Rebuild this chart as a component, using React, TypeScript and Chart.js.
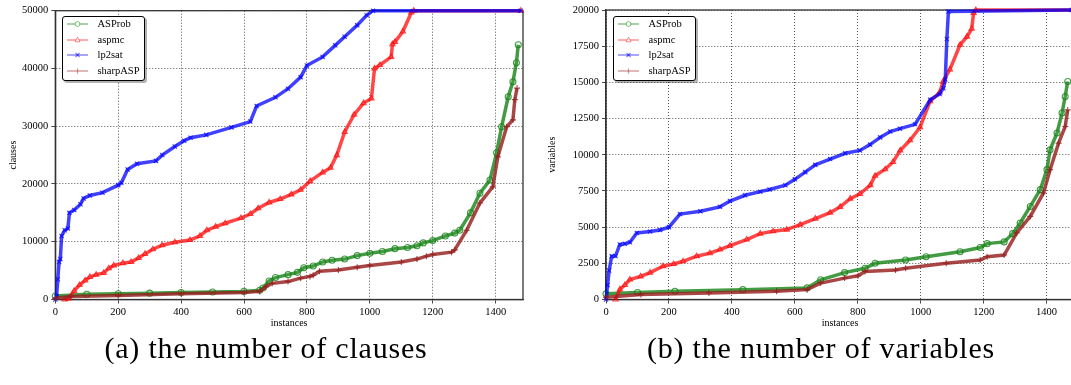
import React, { useEffect, useRef } from "react";
import { Chart, registerables } from "chart.js";
Chart.register(...registerables);

// ---------- shared ----------
const seriesNames = ["ASProb", "aspmc", "lp2sat", "sharpASP"];
const seriesColors = ["rgba(20,130,20,0.8)", "rgba(255,10,10,0.75)", "rgba(0,0,255,0.75)", "rgba(150,30,30,0.82)"];
const legendColors = ["rgba(20,140,20,0.55)", "rgba(255,20,20,0.5)", "rgba(0,0,255,0.5)", "rgba(160,30,30,0.45)"];
const seriesMarkers = ["circle", "triangle", "crossRot", "cross"];
const instanceTicks = [0, 200, 400, 600, 800, 1000, 1200, 1400];
const instanceMax = 1487;

// ---------- (a) clauses ----------
const clausesTicks = [0, 10000, 20000, 30000, 40000, 50000];
const clausesASProbX = [0, 100, 200, 300, 400, 500, 600, 650, 660, 680, 700, 740, 770, 790, 820, 850, 880, 920, 960, 1000, 1040, 1080, 1120, 1150, 1170, 1200, 1240, 1270, 1286, 1320, 1350, 1382, 1403, 1419, 1440, 1455, 1466, 1472];
const clausesASProbY = [600, 900, 1000, 1100, 1200, 1300, 1400, 1600, 2000, 3200, 3800, 4300, 4700, 5500, 5800, 6500, 6800, 7000, 7600, 8000, 8300, 8800, 9000, 9300, 9800, 10200, 11000, 11500, 12000, 15000, 18400, 20700, 25400, 29900, 35100, 37700, 41000, 44100];
const clausesAspmcX = [30, 43, 60, 77, 95, 110, 130, 154, 170, 186, 215, 241, 265, 285, 310, 340, 380, 428, 460, 482, 510, 540, 590, 620, 645, 680, 715, 750, 780, 810, 850, 875, 895, 920, 950, 980, 1005, 1015, 1032, 1068, 1072, 1080, 1105, 1132, 1140, 1480];
const clausesAspmcY = [0, 200, 1500, 2500, 3300, 3900, 4300, 4600, 5400, 5900, 6300, 6500, 7200, 7900, 8700, 9400, 9900, 10300, 11000, 12000, 12600, 13200, 14100, 14800, 15800, 16800, 17400, 18200, 19000, 20500, 22000, 22800, 25000, 29000, 32000, 34000, 34800, 40000, 40600, 42000, 44200, 44600, 46400, 49700, 50000, 50000];
const clausesLp2satX = [0, 4, 8, 12, 16, 20, 30, 40, 45, 60, 80, 90, 110, 150, 200, 210, 230, 260, 320, 340, 380, 410, 430, 480, 560, 620, 640, 700, 740, 780, 800, 850, 890, 920, 960, 990, 1010, 1480];
const clausesLp2satY = [0, 500, 3500, 6500, 7000, 11000, 12000, 12300, 15000, 15500, 16500, 17500, 18000, 18500, 19800, 20200, 22500, 23500, 24000, 25000, 26500, 27500, 28000, 28500, 29800, 30800, 33500, 35000, 36500, 38500, 40500, 42000, 44000, 45500, 47500, 49200, 50000, 50000];
const clausesSharpX = [0, 50, 200, 400, 600, 650, 670, 690, 740, 780, 810, 820, 840, 900, 960, 1000, 1100, 1150, 1180, 1200, 1260, 1270, 1308, 1350, 1391, 1407, 1435, 1455, 1461, 1468];
const clausesSharpY = [200, 500, 700, 1000, 1200, 1400, 2200, 2800, 3100, 3700, 4000, 4200, 4900, 5100, 5600, 5900, 6500, 7000, 7500, 7800, 8200, 8600, 12000, 16700, 19500, 24700, 29900, 31100, 34600, 36600];

// ---------- (b) variables ----------
const variablesTicks = [0, 2500, 5000, 7500, 10000, 12500, 15000, 17500, 20000];
const variablesASProbX = [0, 100, 219, 435, 639, 682, 758, 823, 855, 952, 1017, 1125, 1189, 1211, 1265, 1292, 1316, 1348, 1380, 1401, 1411, 1433, 1449, 1459, 1467];
const variablesASProbY = [390, 480, 570, 680, 800, 1360, 1860, 2160, 2500, 2730, 2950, 3300, 3590, 3860, 3980, 4550, 5290, 6430, 7590, 8970, 10340, 11500, 12880, 14020, 15060];
const variablesAspmcX = [30, 44, 60, 76, 110, 140, 181, 215, 245, 288, 330, 362, 394, 447, 490, 531, 574, 617, 665, 712, 744, 776, 807, 840, 855, 887, 912, 935, 966, 998, 1030, 1060, 1071, 1093, 1125, 1147, 1162, 1168, 1175, 1480];
const variablesAspmcY = [0, 700, 1000, 1380, 1600, 1860, 2300, 2450, 2640, 2990, 3200, 3450, 3720, 4140, 4550, 4710, 4830, 5170, 5590, 6000, 6400, 6970, 7300, 7900, 8550, 9000, 9500, 10300, 11000, 11900, 13700, 14300, 15050, 15900, 17600, 18160, 18700, 19800, 20000, 20000];
const variablesLp2satX = [0, 5, 10, 18, 30, 44, 60, 76, 98, 140, 172, 200, 235, 300, 362, 394, 442, 490, 520, 570, 600, 633, 665, 712, 760, 807, 839, 871, 903, 934, 982, 1030, 1060, 1072, 1078, 1083, 1088, 1480];
const variablesLp2satY = [0, 1000, 2000, 2990, 3000, 3800, 3850, 3950, 4600, 4700, 4800, 5000, 5900, 6100, 6400, 6800, 7200, 7450, 7600, 7900, 8300, 8800, 9300, 9700, 10100, 10300, 10700, 11200, 11600, 11800, 12100, 13800, 14200, 14600, 15200, 18000, 19900, 20000];
const variablesSharpX = [0, 111, 327, 542, 639, 682, 758, 801, 823, 920, 952, 1081, 1189, 1211, 1265, 1305, 1348, 1390, 1411, 1438, 1459, 1467];
const variablesSharpY = [160, 340, 455, 568, 682, 1136, 1477, 1636, 1932, 2045, 2160, 2500, 2730, 2955, 3070, 4600, 5740, 7360, 8970, 10800, 11950, 13100];

const SERIF = '"Liberation Serif", "Times New Roman", serif';

const framePlugin = {
  id: "frame",
  beforeDatasetsDraw(chart: any) {
    const { ctx, chartArea: a } = chart;
    ctx.save();
    ctx.strokeStyle = "#333";
    ctx.lineWidth = 1.3;
    ctx.strokeRect(a.left, a.top, a.right - a.left, a.bottom - a.top);
    ctx.restore();
  },
};

function makeDatasets(xs: number[][], ys: number[][]) {
  const orders = [4, 3, 2, 1];
  return seriesNames.map((name, i) => ({
    label: name,
    data: xs[i].map((x, j) => ({ x, y: ys[i][j] })),
    borderColor: seriesColors[i],
    backgroundColor: "rgba(255,255,255,0)",
    pointBorderColor: seriesColors[i],
    pointBackgroundColor: "rgba(255,255,255,0)",
    pointStyle: seriesMarkers[i],
    pointRadius: 3,
    pointBorderWidth: 1.1,
    borderWidth: 3.5,
    tension: 0,
    clip: false as any,
    order: orders[i],
  }));
}

type Cfg = {
  width: number;
  height: number;
  yWidth: number;
  padTop: number;
  padRight: number;
  yTitle: string;
  yTitlePad: number;
  yTicks: number[];
  xs: number[][];
  ys: number[][];
};

function ChartPanel({ cfg, left }: { cfg: Cfg; left: number }) {
  const ref = useRef<HTMLCanvasElement | null>(null);
  useEffect(() => {
    if (!ref.current) return;
    const tickFont = { family: SERIF, size: 10.5 };
    const yMax = cfg.yTicks[cfg.yTicks.length - 1];
    const chart = new Chart(ref.current, {
      type: "line",
      data: { datasets: makeDatasets(cfg.xs, cfg.ys) as any },
      plugins: [framePlugin],
      options: {
        responsive: false,
        animation: false,
        events: [],
        layout: { padding: { top: cfg.padTop, right: cfg.padRight, left: 0, bottom: 0 } },
        plugins: { legend: { display: false }, tooltip: { enabled: false } },
        scales: {
          x: {
            type: "linear",
            min: 0,
            max: instanceMax,
            afterBuildTicks: (s: any) => {
              s.ticks = instanceTicks.map((v) => ({ value: v }));
            },
            afterFit: (s: any) => {
              s.height = cfg.height - 299.5;
            },
            ticks: { font: tickFont, color: "#000", padding: 2, maxRotation: 0, callback: (v: any) => String(v) },
            grid: { color: "rgba(0,0,0,0.75)", lineWidth: 0.9, tickLength: 4, tickColor: "#333", tickBorderDash: [] },
            border: { display: true, color: "#333", width: 1.3, dash: [1, 2] },
            title: { display: true, text: "instances", font: { family: SERIF, size: 10 }, color: "#000", padding: { top: 0, bottom: 6 } },
          },
          y: {
            type: "linear",
            min: 0,
            max: yMax,
            afterBuildTicks: (s: any) => {
              s.ticks = cfg.yTicks.map((v) => ({ value: v }));
            },
            afterFit: (s: any) => {
              s.width = cfg.yWidth;
            },
            ticks: { font: tickFont, color: "#000", padding: 3, callback: (v: any) => String(v) },
            grid: { color: "rgba(0,0,0,0.75)", lineWidth: 0.9, tickLength: 4, tickColor: "#333", tickBorderDash: [] },
            border: { display: true, color: "#333", width: 1.3, dash: [1, 2] },
            title: { display: true, text: cfg.yTitle, font: { family: SERIF, size: 10 }, color: "#000", padding: { top: cfg.yTitlePad, bottom: 0 } },
          },
        },
      } as any,
    });
    return () => chart.destroy();
  }, [cfg]);
  return (
    <canvas
      ref={ref}
      width={cfg.width}
      height={cfg.height}
      style={{ position: "absolute", left, top: 0, width: cfg.width, height: cfg.height }}
    />
  );
}

function MarkerSvg({ i }: { i: number }) {
  const c = legendColors[i];
  let m: any = null;
  if (i === 0) m = <circle cx="10.5" cy="5" r="2.4" fill="#fff" stroke={c} strokeWidth="1" />;
  if (i === 1) m = <polygon points="10.5,2.2 13,6.8 8,6.8" fill="#fff" stroke={c} strokeWidth="1" />;
  if (i === 2)
    m = (
      <g stroke={c} strokeWidth="1.2">
        <line x1="8.5" y1="3" x2="12.5" y2="7" />
        <line x1="12.5" y1="3" x2="8.5" y2="7" />
      </g>
    );
  if (i === 3)
    m = (
      <g stroke={c} strokeWidth="1.2">
        <line x1="10.5" y1="2.3" x2="10.5" y2="7.7" />
      </g>
    );
  return (
    <svg width="22" height="10" style={{ display: "block" }}>
      <line x1="0" y1="5" x2="21" y2="5" stroke={c} strokeWidth="1.4" />
      {m}
    </svg>
  );
}

function Legend({ left, top }: { left: number; top: number }) {
  return (
    <div
      style={{
        position: "absolute",
        left,
        top,
        width: 83,
        height: 65,
        border: "1px solid #000",
        borderRadius: 3,
        background: "#fff",
        boxShadow: "2px 2px 0 rgba(0,0,0,0.3)",
        boxSizing: "border-box",
      }}
    >
      {seriesNames.map((n, i) => (
        <div key={n} style={{ position: "absolute", left: 4, top: 2 + i * 15.5, height: 10, display: "flex", alignItems: "center" }}>
          <MarkerSvg i={i} />
          <span style={{ marginLeft: 8.5, fontFamily: SERIF, fontSize: 10.5, lineHeight: "10px", color: "#000", whiteSpace: "nowrap" }}>{n}</span>
        </div>
      ))}
    </div>
  );
}

const clausesCfg: Cfg = {
  width: 530,
  height: 335,
  yWidth: 55.3,
  padTop: 10.7,
  padRight: 7,
  yTitle: "clauses",
  yTitlePad: 7.3,
  yTicks: clausesTicks,
  xs: [clausesASProbX, clausesAspmcX, clausesLp2satX, clausesSharpX],
  ys: [clausesASProbY, clausesAspmcY, clausesLp2satY, clausesSharpY],
};

const variablesCfg: Cfg = {
  width: 546,
  height: 335,
  yWidth: 66,
  padTop: 10,
  padRight: 12,
  yTitle: "variables",
  yTitlePad: 6,
  yTicks: variablesTicks,
  xs: [variablesASProbX, variablesAspmcX, variablesLp2satX, variablesSharpX],
  ys: [variablesASProbY, variablesAspmcY, variablesLp2satY, variablesSharpY],
};

const captionStyle: React.CSSProperties = {
  position: "absolute",
  top: 331,
  fontFamily: SERIF,
  fontSize: 30,
  lineHeight: 1.15,
  letterSpacing: 0.8,
  color: "#000",
  textAlign: "center",
  whiteSpace: "nowrap",
};

export default function App() {
  return (
    <div style={{ position: "fixed", left: 0, top: 0, width: 1071, height: 385, overflow: "hidden", background: "#fff" }}>
      <ChartPanel cfg={clausesCfg} left={0} />
      <ChartPanel cfg={variablesCfg} left={540} />
      <Legend left={62} top={16} />
      <Legend left={613} top={16} />
      <div style={{ ...captionStyle, left: 0, width: 532 }}>(a) the number of clauses</div>
      <div style={{ ...captionStyle, left: 560, width: 522 }}>(b) the number of variables</div>
    </div>
  );
}
